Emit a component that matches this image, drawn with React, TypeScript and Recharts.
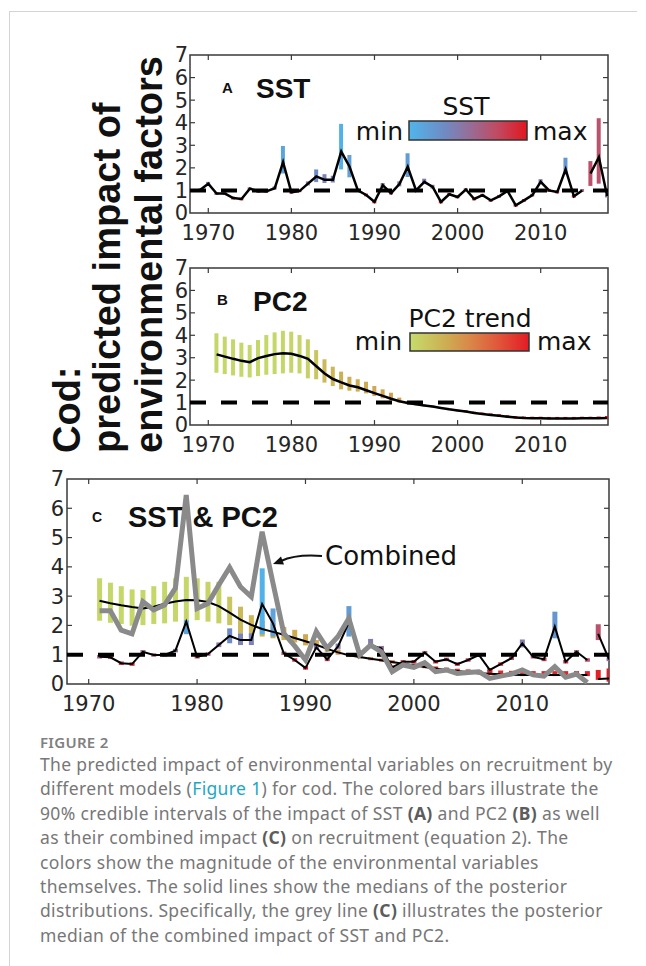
import React from 'react';
import { ComposedChart, Bar, Line, XAxis, YAxis, ReferenceLine, ReferenceArea, Cell } from 'recharts';

const range = (a: number, b: number) => Array.from({ length: b - a + 1 }, (_, i) => a + i);

// years
const YEARS_A = range(1968, 2018);
const YEARS_BC = range(1971, 2018);
const DECADES = [1970, 1980, 1990, 2000, 2010];
const Y_TICKS = [0, 1, 2, 3, 4, 5, 6, 7];
const INNER_Y_TICKS = [1, 2, 3, 4, 5, 6];

// relative SST per year (0 = min, 1 = max), 1968-2018
const SST_LEVEL = [
  0.55, 0.5, 0.45, 0.6, 0.65, 0.85, 0.9, 0.55, 0.6, 0.6,
  0.5, 0.12, 0.75, 0.65, 0.45, 0.3, 0.35, 0.35, 0.03, 0.15,
  0.7, 0.85, 0.95, 0.45, 0.8, 0.4, 0.18, 0.6, 0.42, 0.5,
  0.92, 0.75, 0.82, 0.6, 0.85, 0.7, 0.88, 0.75, 0.6, 0.97,
  0.85, 0.72, 0.42, 0.65, 0.8, 0.22, 0.85, 0.6, 0.72, 0.7,
  0.5,
];

// relative PC2 trend per year, 1971-2018
const PC2_LEVEL = [
  0.03, 0.03, 0.03, 0.03, 0.03, 0.03, 0.03, 0.03, 0.04, 0.05,
  0.06, 0.08, 0.15, 0.22, 0.25, 0.28, 0.3, 0.3, 0.32, 0.33,
  0.35, 0.38, 0.42, 0.45, 0.5, 0.55, 0.6, 0.65, 0.7, 0.75,
  0.8, 0.85, 0.88, 0.9, 0.92, 0.93, 0.94, 0.95, 0.95, 0.96,
  0.96, 0.97, 0.97, 0.97, 0.98, 0.98, 0.98, 0.99,
];

// Panel A: SST, 1968-2018
const SST_MED_A = [
  1.0, 1.02, 1.3, 0.86, 0.86, 0.66, 0.62, 1.08, 0.96, 0.96,
  1.1, 2.25, 0.92, 0.98, 1.3, 1.62, 1.47, 1.47, 2.72, 2.05,
  1.0, 0.8, 0.5, 1.23, 0.88, 1.28, 2.05, 1.0, 1.38, 1.16,
  0.49, 0.83, 0.71, 1.04, 0.62, 0.79, 0.56, 0.74, 0.98, 0.34,
  0.56, 0.79, 1.38, 1.0, 0.93, 1.93, 0.74, 1.0, null, null,
  null,
];
const SST_TAIL_YEARS_A = [2016, 2017, 2018];
const SST_TAIL_A = [1.75, 2.47, 0.75];
const SST_LO_A = [
  0.94, 0.96, 1.22, 0.8, 0.8, 0.6, 0.56, 1.02, 0.9, 0.9,
  1.04, 1.75, 0.86, 0.92, 1.22, 1.37, 1.33, 1.35, 1.93, 1.58,
  0.93, 0.74, 0.43, 1.15, 0.82, 1.18, 1.6, 0.94, 1.28, 1.08,
  0.43, 0.77, 0.65, 0.98, 0.56, 0.73, 0.5, 0.68, 0.92, 0.28,
  0.5, 0.73, 1.28, 0.93, 0.87, 1.7, 0.68, 0.94, 1.2, 1.3,
  0.69,
];
const SST_HI_A = [
  1.06, 1.08, 1.38, 0.92, 0.92, 0.72, 0.68, 1.14, 1.02, 1.02,
  1.18, 2.97, 0.98, 1.04, 1.4, 1.93, 1.72, 1.65, 3.95, 2.57,
  1.07, 0.86, 0.57, 1.33, 0.95, 1.4, 2.65, 1.06, 1.52, 1.25,
  0.55, 0.89, 0.77, 1.1, 0.68, 0.85, 0.62, 0.8, 1.04, 0.4,
  0.62, 0.85, 1.5, 1.07, 0.99, 2.45, 0.8, 1.06, 2.3, 4.2,
  0.82,
];

// Panel B: PC2, 1971-2018
const PC2_MED_B = [
  3.15, 3.05, 2.95, 2.86, 2.8, 2.98, 3.08, 3.16, 3.2, 3.18,
  3.08, 2.95, 2.62, 2.3, 2.05, 1.9, 1.76, 1.68, 1.55, 1.42,
  1.3, 1.17, 1.06, 0.98, 0.92, 0.87, 0.82, 0.76, 0.7, 0.65,
  0.6, 0.54, 0.49, 0.45, 0.41, 0.37, 0.33, 0.31, 0.3, 0.3,
  0.29, 0.29, 0.29, 0.29, 0.3, 0.3, 0.3, 0.31,
];
const PC2_LO_B = [
  2.33, 2.27, 2.21, 2.15, 2.12, 2.18, 2.24, 2.27, 2.3, 2.33,
  2.3, 2.08, 2.04, 1.89, 1.74, 1.59, 1.53, 1.49, 1.41, 1.29,
  1.19, 1.08, 1.0, 0.93, 0.88, 0.83, 0.78, 0.72, 0.66, 0.61,
  0.56, 0.5, 0.45, 0.41, 0.37, 0.33, 0.29, 0.28, 0.27, 0.27,
  0.26, 0.26, 0.26, 0.26, 0.27, 0.27, 0.27, 0.27,
];
const PC2_HI_B = [
  4.09, 3.94, 3.82, 3.67, 3.57, 3.79, 4.01, 4.13, 4.2, 4.16,
  4.01, 3.82, 3.34, 2.93, 2.6, 2.38, 2.15, 2.04, 1.93, 1.74,
  1.59, 1.44, 1.22, 1.06, 0.98, 0.92, 0.87, 0.8, 0.74, 0.69,
  0.66, 0.6, 0.56, 0.52, 0.48, 0.44, 0.4, 0.38, 0.37, 0.37,
  0.36, 0.36, 0.36, 0.36, 0.37, 0.37, 0.38, 0.4,
];

// Panel C: SST & PC2, 1971-2018
const SST_MED_C = [
  0.93, 0.91, 0.71, 0.68, 1.1, 0.99, 0.99, 1.14, 2.13, 0.93,
  1.02, 1.33, 1.64, 1.5, 1.5, 2.73, 2.07, 1.05, 0.82, 0.55,
  1.25, 0.84, 1.28, 2.1, 0.99, 1.33, 1.22, 0.57, 0.76, 0.76,
  1.07, 0.76, 0.84, 0.68, 0.82, 0.99, 0.48, 0.68, 0.88, 1.39,
  0.93, 0.84, 1.96, 0.76, 1.1, 0.82, null, null,
];
const TAIL_YEARS_C = [2017, 2018];
const SST_TAIL_C = [1.71, 0.84];
const SST_LO_C = [
  0.87, 0.85, 0.65, 0.62, 1.04, 0.93, 0.93, 1.08, 1.7, 0.87,
  0.96, 1.26, 1.39, 1.33, 1.33, 1.7, 1.62, 0.99, 0.76, 0.49,
  1.18, 0.78, 1.2, 1.62, 0.93, 1.25, 1.15, 0.51, 0.7, 0.7,
  1.01, 0.7, 0.78, 0.62, 0.76, 0.93, 0.42, 0.62, 0.82, 1.25,
  0.87, 0.78, 1.56, 0.7, 1.04, 0.76, 1.5, 0.78,
];
const SST_HI_C = [
  0.99, 0.97, 0.77, 0.74, 1.16, 1.05, 1.05, 1.2, 2.18, 0.99,
  1.08, 1.42, 1.9, 1.73, 1.73, 3.95, 2.58, 1.11, 0.88, 0.61,
  1.33, 0.9, 1.38, 2.66, 1.05, 1.54, 1.3, 0.63, 0.82, 0.82,
  1.13, 0.82, 0.9, 0.74, 0.88, 1.05, 0.54, 0.74, 0.94, 1.52,
  0.99, 0.9, 2.47, 0.82, 1.16, 0.88, 2.04, 0.9,
];
const PC2_MED_C = [
  2.84, 2.76, 2.69, 2.63, 2.58, 2.64, 2.74, 2.82, 2.87, 2.86,
  2.8, 2.66, 2.44, 2.2, 2.02, 1.88, 1.78, 1.68, 1.57, 1.46,
  1.34, 1.2, 1.08, 0.98, 0.92, 0.86, 0.81, 0.75, 0.69, 0.64,
  0.58, 0.53, 0.48, 0.44, 0.4, 0.37, 0.35, 0.33, 0.32, 0.31,
  0.31, 0.31, 0.31, 0.31, 0.31, 0.31, null, null,
];
const PC2_TAIL_C = [0.17, 0.19];
const PC2_LO_C = [
  2.16, 2.09, 2.05, 1.99, 2.01, 2.05, 2.07, 2.13, 2.18, 2.18,
  2.13, 2.07, 2.01, 1.73, 1.62, 1.62, 1.56, 1.5, 1.42, 1.32,
  1.22, 1.1, 1.0, 0.92, 0.87, 0.81, 0.76, 0.7, 0.64, 0.59,
  0.54, 0.49, 0.44, 0.4, 0.36, 0.33, 0.31, 0.29, 0.28, 0.27,
  0.27, 0.27, 0.27, 0.27, 0.27, 0.27, 0.14, 0.08,
];
const PC2_HI_C = [
  3.61, 3.46, 3.34, 3.23, 3.21, 3.34, 3.49, 3.61, 3.66, 3.61,
  3.49, 3.49, 2.98, 2.64, 2.35, 2.16, 2.07, 1.95, 1.85, 1.7,
  1.5, 1.35, 1.18, 1.05, 0.98, 0.92, 0.87, 0.81, 0.75, 0.7,
  0.64, 0.6, 0.56, 0.52, 0.5, 0.48, 0.47, 0.46, 0.45, 0.45,
  0.44, 0.44, 0.44, 0.44, 0.44, 0.44, 0.48, 0.53,
];
const COMBINED_C = [
  2.5, 2.5, 1.84, 1.71, 2.81, 2.53, 2.7, 3.27, 6.45, 2.58,
  2.75, 3.38, 3.98, 3.32, 2.98, 5.2, 3.45, 1.73, 1.3, 0.82,
  1.79, 1.22, 1.62, 2.24, 0.99, 1.33, 1.1, 0.42, 0.65, 0.57,
  0.73, 0.42, 0.48, 0.36, 0.39, 0.42, 0.19, 0.27, 0.34, 0.48,
  0.31, 0.27, 0.59, 0.23, 0.34, 0.05, null, null,
];

const CAPTION = [
  ['The predicted impact of environmental variables on recruitment by'],
  ['different models (', { link: 'Figure 1' }, ') for cod. The colored bars illustrate the'],
  ['90% credible intervals of the impact of SST ', { bold: '(A)' }, ' and PC2 ', { bold: '(B)' }, ' as well'],
  ['as their combined impact ', { bold: '(C)' }, ' on recruitment (equation 2). The'],
  ['colors show the magnitude of the environmental variables'],
  ['themselves. The solid lines show the medians of the posterior'],
  ['distributions. Specifically, the grey line ', { bold: '(C)' }, ' illustrates the posterior'],
  ['median of the combined impact of SST and PC2.'],
];

// colormaps
const SST_STOPS: [number, string][] = [
  [0, '#4fb6ec'], [0.3, '#6f8bc4'], [0.5, '#94709a'], [0.75, '#c14a62'], [1, '#e2161f'],
];
const PC2_STOPS: [number, string][] = [
  [0, '#c5dc6c'], [0.3, '#cdae52'], [0.5, '#d98849'], [0.75, '#e0553a'], [1, '#e31b25'],
];

const hexRgb = (h: string) => [1, 3, 5].map((i) => parseInt(h.slice(i, i + 2), 16));
function colorAt(stops: [number, string][], t: number) {
  for (let i = 1; i < stops.length; i++) {
    if (t <= stops[i][0]) {
      const [t0, c0] = stops[i - 1];
      const [t1, c1] = stops[i];
      const f = (t - t0) / (t1 - t0);
      const a = hexRgb(c0);
      const b = hexRgb(c1);
      return `rgb(${a.map((v, k) => Math.round(v + (b[k] - v) * f)).join(',')})`;
    }
  }
  return stops[stops.length - 1][1];
}

const lookup = (years: number[], values: number[], y: number) => {
  const i = years.indexOf(y);
  return i < 0 ? null : values[i];
};

const dataA = YEARS_A.map((year, i) => ({
  year,
  med: SST_MED_A[i],
  tail: lookup(SST_TAIL_YEARS_A, SST_TAIL_A, year),
  lo: SST_LO_A[i],
  hi: SST_HI_A[i],
  color: colorAt(SST_STOPS, SST_LEVEL[year - 1968]),
}));

const dataB = YEARS_BC.map((year, i) => ({
  year,
  med: PC2_MED_B[i],
  lo: PC2_LO_B[i],
  hi: PC2_HI_B[i],
  color: colorAt(PC2_STOPS, PC2_LEVEL[i]),
}));

const dataC = YEARS_BC.map((year, i) => ({
  year,
  sMed: SST_MED_C[i],
  sTail: lookup(TAIL_YEARS_C, SST_TAIL_C, year),
  sLo: SST_LO_C[i],
  sHi: SST_HI_C[i],
  sColor: colorAt(SST_STOPS, SST_LEVEL[year - 1968]),
  pMed: PC2_MED_C[i],
  pTail: lookup(TAIL_YEARS_C, PC2_TAIL_C, year),
  pLo: PC2_LO_C[i],
  pHi: PC2_HI_C[i],
  pColor: colorAt(PC2_STOPS, PC2_LEVEL[i]),
  comb: COMBINED_C[i],
}));

const FRAME = '#3a3a3a';
const tickFont = { fontSize: 21, fill: '#262626', fontFamily: 'DejaVu Sans' };

function frameMarks(xDomain: number[], tx: number, ty: number) {
  const [x0, x1] = xDomain;
  const marks = [
    <ReferenceArea key="box" x1={x0} x2={x1} y1={0} y2={7} fill="none" stroke={FRAME} strokeWidth={1.5} />,
  ];
  DECADES.forEach((x) => {
    marks.push(<ReferenceLine key={`b${x}`} segment={[{ x, y: 0 }, { x, y: ty }]} stroke={FRAME} strokeWidth={1.2} />);
    marks.push(<ReferenceLine key={`t${x}`} segment={[{ x, y: 7 }, { x, y: 7 - ty }]} stroke={FRAME} strokeWidth={1.2} />);
  });
  INNER_Y_TICKS.forEach((y) => {
    marks.push(<ReferenceLine key={`l${y}`} segment={[{ x: x0, y }, { x: x0 + tx, y }]} stroke={FRAME} strokeWidth={1.2} />);
    marks.push(<ReferenceLine key={`r${y}`} segment={[{ x: x1, y }, { x: x1 - tx, y }]} stroke={FRAME} strokeWidth={1.2} />);
  });
  marks.push(<ReferenceLine key="one" y={1} stroke="#000" strokeWidth={4} strokeDasharray="16 15" />);
  return marks;
}

// plot area starts 20px below the div top and 40px right of its left edge
function Panel({ left, top, width, height, xDomain, data, tx, ty, yMargin, barGap, children }: any) {
  return (
    <div style={{ position: 'absolute', left, top }}>
      <ComposedChart
        width={width}
        height={height}
        data={data}
        barGap={barGap}
        margin={{ top: 20, right: 20, bottom: 0, left: 0 }}
      >
        <XAxis
          type="number"
          dataKey="year"
          domain={xDomain}
          allowDataOverflow
          ticks={DECADES}
          interval={0}
          tickLine={false}
          axisLine={false}
          tickSize={0}
          tickMargin={12}
          height={45}
          tick={tickFont}
        />
        <YAxis
          type="number"
          domain={[0, 7]}
          allowDataOverflow
          ticks={Y_TICKS}
          interval={0}
          tickLine={false}
          axisLine={false}
          tickSize={0}
          tickMargin={yMargin}
          width={40}
          tick={tickFont}
        />
        {frameMarks(xDomain, tx, ty)}
        {children}
      </ComposedChart>
    </div>
  );
}

function Colorbar({ id, stops, x, y, w, h }: any) {
  return (
    <g>
      <defs>
        <linearGradient id={id} x1="0" x2="1" y1="0" y2="0">
          {stops.map(([o, c]: [number, string]) => (
            <stop key={o} offset={o} stopColor={c} />
          ))}
        </linearGradient>
      </defs>
      <rect x={x} y={y} width={w} height={h} fill={`url(#${id})`} stroke="#333" strokeWidth={1.5} />
    </g>
  );
}

function Overlay() {
  const label = { fontFamily: 'Liberation Sans', fontWeight: 'bold', fill: '#111' } as const;
  const reg = { fontFamily: 'DejaVu Sans', fill: '#111' } as const;
  return (
    <svg width={646} height={966} style={{ position: 'absolute', left: 0, top: 0 }}>
      {/* y label */}
      <text {...label} fontSize={38} transform="translate(80,453) rotate(-90)">Cod:</text>
      <text {...label} fontSize={38} transform="translate(120,453) rotate(-90)">predicted impact of</text>
      <text {...label} fontSize={38} transform="translate(162,453) rotate(-90)">environmental factors</text>

      {/* panel A */}
      <text {...label} fontSize={15} x={222} y={93}>A</text>
      <text {...label} fontSize={28} x={256} y={98}>SST</text>
      <text {...reg} fontSize={25} x={466} y={115} textAnchor="middle">SST</text>
      <text {...reg} fontSize={25} x={403} y={140} textAnchor="end">min</text>
      <text {...reg} fontSize={25} x={533} y={140}>max</text>
      <Colorbar id="gSst" stops={SST_STOPS} x={409} y={121} w={118} h={19} />

      {/* panel B */}
      <text {...label} fontSize={15} x={217} y={305}>B</text>
      <text {...label} fontSize={28} x={253} y={311}>PC2</text>
      <text {...reg} fontSize={25} x={470} y={327} textAnchor="middle">PC2 trend</text>
      <text {...reg} fontSize={25} x={402} y={350} textAnchor="end">min</text>
      <text {...reg} fontSize={25} x={537} y={350}>max</text>
      <Colorbar id="gPc2" stops={PC2_STOPS} x={410} y={333} w={119} h={18} />

      {/* panel C */}
      <text {...label} fontSize={14} x={92} y={522}>C</text>
      <text {...label} fontSize={29} x={128} y={527}>SST &amp; PC2</text>
      <text {...reg} fontSize={26} x={325} y={565}>Combined</text>
      <path d="M 322 556 Q 296 554 281 561" fill="none" stroke="#111" strokeWidth={2} />
      <polygon points="273,564 284,564.5 281,556.5" fill="#111" />

      {/* caption */}
      <text x={40} y={748} fontFamily="Noto Sans" fontSize={15} fontWeight={600} fill="#808080" letterSpacing={0.3}>
        FIGURE 2
      </text>
      {CAPTION.map((parts, i) => (
        <text
          key={i}
          x={40}
          y={771 + i * 24.4}
          fontFamily="Noto Sans"
          fontSize={17.5}
          letterSpacing={0.35}
          fill="#777"
          style={{ whiteSpace: 'pre' }}
        >
          {parts.map((p: any, k: number) =>
            typeof p === 'string' ? (
              <tspan key={k}>{p}</tspan>
            ) : p.link ? (
              <tspan key={k} fill="#1ea7c3">{p.link}</tspan>
            ) : (
              <tspan key={k} fontWeight="bold" fill="#5c5c5c">{p.bold}</tspan>
            )
          )}
        </text>
      ))}
    </svg>
  );
}

export default function App() {
  const domAB = [1967.8, 2018.1];
  const domC = [1968, 2018];
  return (
    <div style={{ position: 'absolute', left: 0, top: 0, width: 646, height: 966, background: '#fff', overflow: 'hidden' }}>
      <div
        style={{
          position: 'absolute', left: 9, top: 11, width: 627, height: 960,
          borderTop: '1px solid #d4d4d4', borderLeft: '1px solid #d4d4d4',
        }}
      />
      <Overlay />

      <Panel left={150} top={35} width={478} height={223} xDomain={domAB} data={dataA} tx={0.6} ty={0.22} yMargin={2}>
        <Bar dataKey={(d: any) => [d.lo, d.hi]} barSize={4} isAnimationActive={false}>
          {dataA.map((d, i) => <Cell key={i} fill={d.color} />)}
        </Bar>
        <Line dataKey="med" stroke="#000" strokeWidth={2.5} dot={false} isAnimationActive={false} />
        <Line dataKey="tail" stroke="#000" strokeWidth={2.5} dot={false} isAnimationActive={false} />
      </Panel>

      <Panel left={150} top={248} width={478} height={222} xDomain={domAB} data={dataB} tx={0.6} ty={0.22} yMargin={2}>
        <Bar dataKey={(d: any) => [d.lo, d.hi]} barSize={4} isAnimationActive={false}>
          {dataB.map((d, i) => <Cell key={i} fill={d.color} />)}
        </Bar>
        <Line dataKey="med" stroke="#000" strokeWidth={2.5} dot={false} isAnimationActive={false} />
      </Panel>

      <Panel left={27} top={459} width={602} height={270} xDomain={domC} data={dataC} tx={0.46} ty={0.17} yMargin={3} barGap={-5}>
        <Bar dataKey={(d: any) => [d.pLo, d.pHi]} barSize={5} isAnimationActive={false}>
          {dataC.map((d, i) => <Cell key={i} fill={d.pColor} />)}
        </Bar>
        <Bar dataKey={(d: any) => [d.sLo, d.sHi]} barSize={5} isAnimationActive={false}>
          {dataC.map((d, i) => <Cell key={i} fill={d.sColor} />)}
        </Bar>
        <Line dataKey="pMed" stroke="#000" strokeWidth={2} dot={false} isAnimationActive={false} />
        <Line dataKey="pTail" stroke="#000" strokeWidth={2} dot={false} isAnimationActive={false} />
        <Line dataKey="sMed" stroke="#000" strokeWidth={2} dot={false} isAnimationActive={false} />
        <Line dataKey="sTail" stroke="#000" strokeWidth={2} dot={false} isAnimationActive={false} />
        <Line dataKey="comb" stroke="#8a8a8a" strokeWidth={5} dot={false} strokeLinejoin="miter" isAnimationActive={false} />
      </Panel>
    </div>
  );
}
